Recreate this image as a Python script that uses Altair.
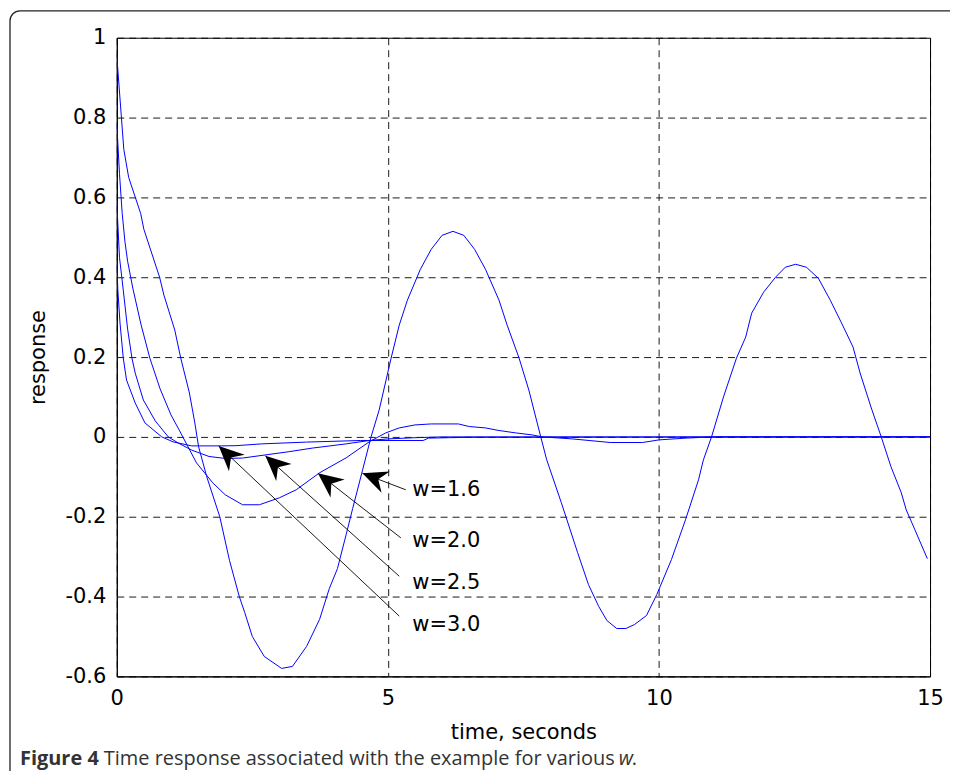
import math
import altair as alt
import pandas as pd

# ---------------- data ----------------
T_W16 = [0, 0.13, 0.22, 0.44, 0.5, 0.79, 0.87, 1.07, 1.18, 1.34, 1.44, 1.51, 1.66, 1.9, 2.08,
         2.26, 2.36, 2.5, 2.72, 3.04, 3.24, 3.5, 3.74, 3.92, 4.07, 4.23, 4.35, 4.53, 4.69, 4.84,
         5.06, 5.21, 5.36, 5.6, 5.8, 6.0, 6.2, 6.4, 6.6, 6.8, 7.05, 7.2, 7.42, 7.6, 7.82, 7.93,
         8.2, 8.5, 8.7, 8.89, 9.04, 9.22, 9.39, 9.55, 9.77, 9.96, 10.23, 10.49, 10.73, 10.82,
         10.97, 11.19, 11.43, 11.6, 11.71, 11.93, 12.15, 12.33, 12.52, 12.72, 12.94, 13.16,
         13.36, 13.58, 13.71, 13.91, 14.1, 14.28, 14.47, 14.56, 14.72, 14.95]
R_W16 = [0.955, 0.72, 0.65, 0.56, 0.52, 0.40, 0.355, 0.2675, 0.1975, 0.11, 0.035, -0.025, -0.1,
         -0.2, -0.31, -0.4, -0.44, -0.5, -0.55, -0.58, -0.575, -0.525, -0.4575, -0.38, -0.33,
         -0.245, -0.18, -0.085, 0.0, 0.0675, 0.1975, 0.28, 0.3425, 0.42, 0.47, 0.505, 0.515,
         0.505, 0.47, 0.42, 0.3425, 0.28, 0.1975, 0.1175, 0.0, -0.0575, -0.165, -0.29, -0.37,
         -0.425, -0.46, -0.48, -0.48, -0.47, -0.4475, -0.395, -0.3075, -0.2075, -0.1075,
         -0.0575, 0.0, 0.1, 0.1975, 0.25, 0.31, 0.3625, 0.4, 0.425, 0.4325, 0.425, 0.3975,
         0.3425, 0.2875, 0.225, 0.16, 0.075, 0.0, -0.075, -0.14, -0.1825, -0.2325, -0.305]

T_W20 = [0, 0.05, 0.1, 0.15, 0.2, 0.3, 0.45, 0.61, 0.8, 1.0, 1.16, 1.47, 1.77, 2.0, 2.32, 2.63,
         3.0, 3.31, 3.74, 4.23, 4.66, 4.96, 5.21, 5.5, 5.8, 6.3, 6.5, 6.8, 7.05, 7.36, 7.66, 7.85,
         8.4, 9.1, 9.7, 10.0, 10.5, 11.0, 15.0]
R_W20 = [0.785, 0.66, 0.56, 0.49, 0.44, 0.37, 0.28, 0.1975, 0.12, 0.055, 0.015, -0.065, -0.115,
         -0.145, -0.17, -0.17, -0.1525, -0.1325, -0.09, -0.0525, -0.012, 0.01, 0.0225, 0.03,
         0.0325, 0.0325, 0.026, 0.0225, 0.016, 0.01, 0.005, 0.0, -0.005, -0.014, -0.014,
         -0.0075, -0.003, 0.0, 0.0]

T_W25 = [0, 0.05, 0.12, 0.2, 0.28, 0.34, 0.49, 0.71, 0.95, 1.13, 1.38, 1.7, 2.0, 2.32, 2.75,
         3.18, 3.61, 4.23, 4.66, 5.0, 5.5, 6.0, 15.0]
R_W25 = [0.5875, 0.45, 0.3675, 0.27, 0.1975, 0.16, 0.0925, 0.04, 0.0, -0.015, -0.033, -0.049,
         -0.054, -0.053, -0.045, -0.037, -0.028, -0.0175, -0.009, -0.005, -0.002, 0.0, 0.0]

T_W30 = [0, 0.02, 0.06, 0.12, 0.18, 0.34, 0.52, 0.83, 1.04, 1.38, 1.93, 2.2, 2.67, 3.5, 4.5,
         5.65, 5.75, 6.5, 15.0]
R_W30 = [0.435, 0.3675, 0.285, 0.1975, 0.1425, 0.085, 0.035, 0.0, -0.0125, -0.0225, -0.0225,
         -0.022, -0.0175, -0.013, -0.009, -0.009, -0.003, -0.001, 0.0]

W_LABELS = ["w=1.6", "w=2.0", "w=2.5", "w=3.0"]
TIP_T = [4.53, 3.71, 2.74, 1.88]
TIP_R = [-0.091, -0.091, -0.0475, -0.0225]
TAIL_T = [5.33, 5.24, 5.21, 5.21]
TAIL_R = [-0.1325, -0.253, -0.349, -0.449]
LABEL_T = [5.45, 5.45, 5.45, 5.45]
LABEL_R = [-0.1325, -0.26, -0.365, -0.4725]

X_TICKS = [0, 5, 10, 15]
Y_TICKS = [-0.6, -0.4, -0.2, 0, 0.2, 0.4, 0.6, 0.8, 1]

X_TITLE = "time, seconds"
Y_TITLE = "response"
CAP_BOLD = "Figure 4"
CAP_TEXT = "Time response associated with the example for various"
CAP_ITAL = "w"
CAP_END = "."

# ---------------- layout ----------------
W, H = 815, 640
X_DOM = [0, 15]
Y_DOM = [-0.6, 1]
PX = W / (X_DOM[1] - X_DOM[0])
PY = H / (Y_DOM[1] - Y_DOM[0])
FONT = "DejaVu Sans"
CAP_FONT = "Open Sans"
CAP_SIZE = 20
CAP_COLOR = "#333333"

rows = []
for name, ts, rs in [("w=1.6", T_W16, R_W16), ("w=2.0", T_W20, R_W20),
                     ("w=2.5", T_W25, R_W25), ("w=3.0", T_W30, R_W30)]:
    for i, (t, r) in enumerate(zip(ts, rs)):
        rows.append({"curve": name, "i": i, "t": t, "r": r})
curves = pd.DataFrame(rows)

arrows = pd.DataFrame({
    "label": W_LABELS, "tip_t": TIP_T, "tip_r": TIP_R,
    "tail_t": TAIL_T, "tail_r": TAIL_R, "lab_t": LABEL_T, "lab_r": LABEL_R,
})
arrows["ang"] = [
    math.degrees(math.atan2((a - b) * PY, (c - d) * PX))
    for a, b, c, d in zip(TIP_R, TAIL_R, TAIL_T, TIP_T)
]

xs = alt.Scale(domain=X_DOM, nice=False, zero=False)
ys = alt.Scale(domain=Y_DOM, nice=False, zero=False)

x_axis = alt.Axis(values=X_TICKS, title=X_TITLE, grid=True, ticks=False, tickSize=0,
                  labelPadding=11, labelFont=FONT, labelFontSize=21, labelColor="black",
                  titleFont=FONT, titleFontSize=21, titleFontWeight="normal",
                  titleColor="black", titlePadding=13, labelFlush=False)
y_axis = alt.Axis(values=Y_TICKS, title=Y_TITLE, grid=True, ticks=False, tickSize=0,
                  labelPadding=11, labelFont=FONT, labelFontSize=21, labelColor="black",
                  labelExpr="'' + round(datum.value * 10) / 10",
                  titleFont=FONT, titleFontSize=21, titleFontWeight="normal",
                  titleColor="black", titlePadding=16, labelFlush=False)

lines = alt.Chart(curves).mark_line(color="#0000ff", strokeWidth=1, clip=True).encode(
    x=alt.X("t:Q", scale=xs, axis=x_axis),
    y=alt.Y("r:Q", scale=ys, axis=y_axis),
    detail="curve:N",
    order="i:Q",
)

shafts = alt.Chart(arrows).mark_rule(color="black", strokeWidth=0.9).encode(
    x="tip_t:Q", y="tip_r:Q", x2="tail_t:Q", y2="tail_r:Q",
)

HEAD = "M0,0L1,-0.46L0.68,0L1,0.46Z"
heads = alt.Chart(arrows).mark_point(shape=HEAD, filled=True, size=2500, color="black",
                                     opacity=1, strokeWidth=0).encode(
    x="tip_t:Q", y="tip_r:Q", angle=alt.Angle("ang:Q", scale=None),
)

labels = alt.Chart(arrows).mark_text(align="left", baseline="middle", font=FONT,
                                     fontSize=21, color="black").encode(
    x="lab_t:Q", y="lab_r:Q", text="label:N",
)

cap_df = pd.DataFrame({"a": [CAP_BOLD], "b": [CAP_TEXT], "c": [CAP_ITAL], "d": [CAP_END]})
CAP_Y = 729
cap1 = alt.Chart(cap_df).mark_text(align="left", baseline="alphabetic", font=CAP_FONT,
                                   fontSize=CAP_SIZE, fontWeight="bold", color=CAP_COLOR).encode(
    x=alt.value(-97), y=alt.value(CAP_Y), text="a:N")
cap2 = alt.Chart(cap_df).mark_text(align="left", baseline="alphabetic", font=CAP_FONT,
                                   fontSize=CAP_SIZE, color=CAP_COLOR).encode(
    x=alt.value(-13), y=alt.value(CAP_Y), text="b:N")
cap3 = alt.Chart(cap_df).mark_text(align="left", baseline="alphabetic", font=CAP_FONT,
                                   fontSize=CAP_SIZE, fontStyle="italic", color=CAP_COLOR).encode(
    x=alt.value(503), y=alt.value(CAP_Y), text="c:N")
cap4 = alt.Chart(cap_df).mark_text(align="left", baseline="alphabetic", font=CAP_FONT,
                                   fontSize=CAP_SIZE, color=CAP_COLOR).encode(
    x=alt.value(516), y=alt.value(CAP_Y), text="d:N")

border = alt.Chart(cap_df).mark_rect(cornerRadius=10, fillOpacity=0, fill="white",
                                     stroke="#222222", strokeWidth=1.3).encode(
    x=alt.value(-107), x2=alt.value(870), y=alt.value(-27), y2=alt.value(790))

chart = alt.layer(border, lines, shafts, heads, labels, cap1, cap2, cap3, cap4).properties(
    width=W, height=H,
    padding={"left": 109, "top": 29, "right": 20, "bottom": 94},
    autosize="none",
    background="white",
).configure_view(stroke="black", strokeWidth=1).configure_axis(
    domainColor="black", domainWidth=1, gridColor="black", gridDash=[7, 5],
    gridWidth=0.9, gridOpacity=1,
)

chart.save("out.html", embed_options={"renderer": "svg", "actions": False})
